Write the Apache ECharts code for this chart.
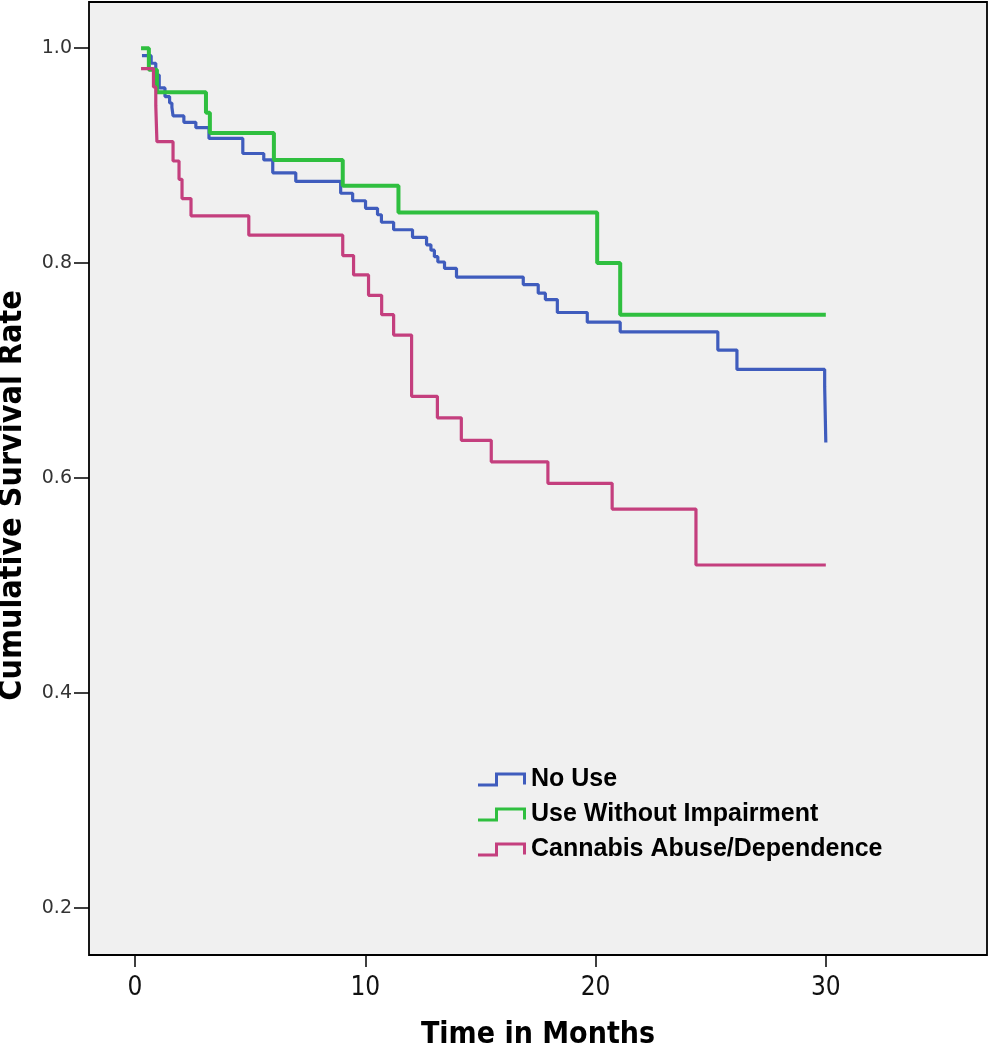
<!DOCTYPE html>
<html>
<head>
<meta charset="utf-8">
<title>Survival</title>
<script src="https://cdn.jsdelivr.net/npm/echarts@6/dist/echarts.min.js"></script>
<style>
html, body { margin: 0; padding: 0; background: #ffffff; }
#main { width: 989px; height: 1050px; }
</style>
</head>
<body>
<div id="main"></div>
<script>
// values (months, cumulative survival)
var noUseTime = [0.3, 0.7, 0.9, 1.05, 1.3, 1.5, 1.6, 1.65, 2.12, 2.64, 3.21, 4.68, 5.59, 5.98, 6.98, 8.93, 9.45, 10.01, 10.53, 10.7, 11.23, 12.05, 12.66, 12.85, 13.0, 13.15, 13.44, 13.96, 16.86, 17.51, 17.82, 18.34, 19.64, 21.07, 25.31, 26.14, 29.95, 30];
var noUseRate = [0.993, 0.986, 0.975, 0.963, 0.955, 0.949, 0.945, 0.937, 0.931, 0.926, 0.916, 0.902, 0.896, 0.884, 0.876, 0.865, 0.858, 0.851, 0.845, 0.838, 0.831, 0.824, 0.817, 0.812, 0.806, 0.801, 0.795, 0.787, 0.780, 0.772, 0.766, 0.754, 0.745, 0.736, 0.719, 0.701, 0.685, 0.633];

var useTime = [0.26, 0.6, 0.95, 3.08, 3.25, 6.03, 9.02, 11.44, 20.07, 21.07, 30];
var useRate = [1.0, 0.98, 0.959, 0.940, 0.921, 0.896, 0.872, 0.847, 0.800, 0.752, 0.752];

var abuseTime = [0.26, 0.8, 0.9, 0.95, 1.65, 1.91, 2.04, 2.43, 4.94, 9.02, 9.49, 10.14, 10.71, 11.23, 12.01, 13.13, 14.17, 15.47, 17.93, 20.72, 24.36, 30];
var abuseRate = [0.981, 0.964, 0.947, 0.913, 0.895, 0.878, 0.860, 0.844, 0.826, 0.807, 0.789, 0.770, 0.752, 0.733, 0.676, 0.656, 0.635, 0.615, 0.595, 0.571, 0.519, 0.519];

var seriesNames = ['No Use', 'Use Without Impairment', 'Cannabis Abuse/Dependence'];
var xTicks = [0, 10, 20, 30];
var yTicks = [0.2, 0.4, 0.6, 0.8, 1.0];

function pairs(t, r) {
    var out = [];
    for (var i = 0; i < t.length; i++) out.push([t[i], r[i]]);
    return out;
}

var chartDom = document.getElementById('main');
var myChart = echarts.init(chartDom);
var stepIcon = 'path://M0,11 L17,11 L17,0 L48,0 L48,12 L45,12 L45,3 L20,3 L20,14 L0,14 Z';
var narrow = '"Liberation Sans Narrow", "DejaVu Sans Condensed", "Arial Narrow", sans-serif';

var option = {
    animation: false,
    grid: {
        left: 89, right: 2, top: 2, bottom: 95,
        outerBoundsMode: 'none',
        containLabel: false,
        show: true,
        backgroundColor: '#f0f0f0',
        borderColor: '#000',
        borderWidth: 1.8
    },
    legend: {
        orient: 'vertical',
        left: 478,
        top: 767,
        padding: 0,
        icon: stepIcon,
        itemWidth: 48,
        itemHeight: 14,
        itemGap: 10,
        textStyle: {
            fontFamily: 'Liberation Sans, Arial, sans-serif',
            fontWeight: 'bold',
            fontSize: 25,
            color: '#000'
        },
        data: seriesNames
    },
    xAxis: {
        type: 'value',
        min: -2,
        max: 37,
        name: 'Time in Months',
        nameLocation: 'middle',
        nameGap: 65,
        nameMoveOverlap: false,
        nameTextStyle: { fontFamily: narrow, fontWeight: 'bold', fontSize: 30, color: '#000', verticalAlign: 'top' },
        axisLine: { show: false, onZero: false },
        splitLine: { show: false },
        axisTick: { show: true, customValues: xTicks, length: 12, lineStyle: { color: '#000', width: 1.5 } },
        axisLabel: { customValues: xTicks, margin: 20, fontFamily: narrow, fontSize: 26, color: '#111' }
    },
    yAxis: {
        type: 'value',
        min: 0.156,
        max: 1.043,
        name: 'Cumulative Survival Rate',
        nameLocation: 'middle',
        nameRotate: 90,
        nameGap: 60,
        nameMoveOverlap: false,
        nameTextStyle: {
            fontFamily: narrow, fontWeight: 'bold', fontSize: 32, color: '#000',
            verticalAlign: 'bottom', padding: [0, 34, 0, 0]
        },
        axisLine: { show: false, onZero: false },
        splitLine: { show: false },
        axisTick: { show: true, customValues: yTicks, length: 15, lineStyle: { color: '#000', width: 1.5 } },
        axisLabel: {
            customValues: yTicks, margin: 17,
            fontFamily: '"DejaVu Sans", sans-serif', fontSize: 19, color: '#333',
            formatter: function (v) { return v.toFixed(1); }
        }
    },
    series: [
        {
            name: seriesNames[0], type: 'line', step: 'end', showSymbol: false, symbol: 'none',
            color: '#3f5cbd',
            lineStyle: { width: 3.2, color: '#3f5cbd' },
            data: pairs(noUseTime, noUseRate)
        },
        {
            name: seriesNames[1], type: 'line', step: 'end', showSymbol: false, symbol: 'none',
            color: '#2fbf3f',
            lineStyle: { width: 4, color: '#2fbf3f' },
            data: pairs(useTime, useRate)
        },
        {
            name: seriesNames[2], type: 'line', step: 'end', showSymbol: false, symbol: 'none',
            color: '#c43f7e',
            lineStyle: { width: 3.2, color: '#c43f7e' },
            data: pairs(abuseTime, abuseRate)
        }
    ]
};

option && myChart.setOption(option);
</script>
</body>
</html>
